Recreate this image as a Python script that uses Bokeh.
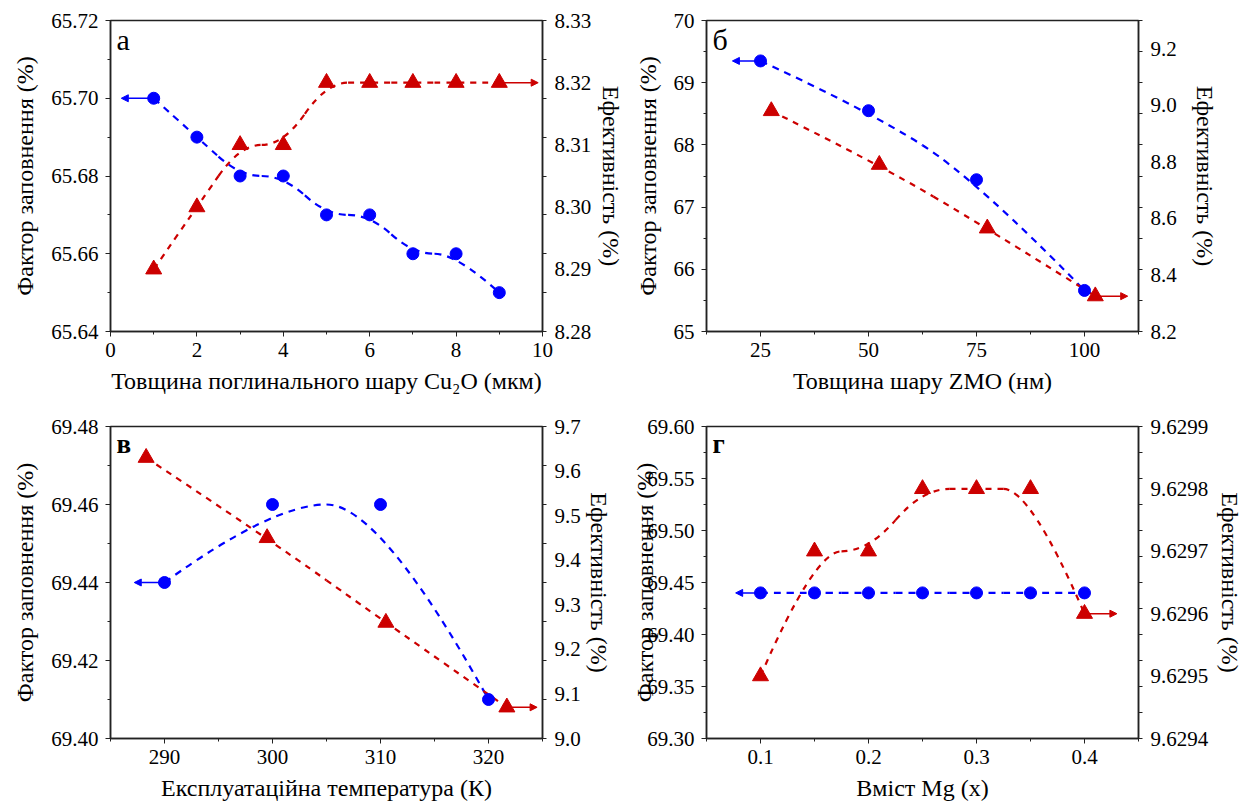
from bokeh.plotting import figure
from bokeh.models import (Range1d, LinearAxis, FixedTicker, PrintfTickFormatter,
                          Arrow, NormalHead, Label)
from bokeh.layouts import column, row
from bokeh.embed import file_html
from bokeh.resources import INLINE
from bokeh.themes import Theme

FONT = "Liberation Serif"
BLUE = "#0000FF"
RED = "#CC0000"

# ---------------- data ----------------
a_x = [1, 2, 3, 4, 5, 6, 7, 8, 9]
a_ff = [65.70, 65.69, 65.68, 65.68, 65.67, 65.67, 65.66, 65.66, 65.65]
a_eff_x = [1, 2, 3, 4, 5, 6, 7, 8, 9]
a_eff = [8.290, 8.300, 8.310, 8.310, 8.320, 8.320, 8.320, 8.320, 8.320]
b_x = [25, 50, 75, 100]
b_ff = [69.35, 68.55, 67.44, 65.66]
b_eff_x = [27.5, 52.5, 77.5, 102.5]
b_eff = [8.98, 8.79, 8.565, 8.325]
c_x = [290, 300, 310, 320]
c_ff = [69.44, 69.46, 69.46, 69.41]
c_eff_x = [288.3, 299.5, 310.5, 321.7]
c_eff = [9.63, 9.45, 9.26, 9.07]
d_x = [0.10, 0.15, 0.20, 0.25, 0.30, 0.35, 0.40]
d_ff = [69.44, 69.44, 69.44, 69.44, 69.44, 69.44, 69.44]
d_eff_x = [0.10, 0.15, 0.20, 0.25, 0.30, 0.35, 0.40]
d_eff = [9.6295, 9.6297, 9.6297, 9.6298, 9.6298, 9.6298, 9.6296]

Y_LEFT_TITLE = "Фактор заповнення (%)"
Y_RIGHT_TITLE = "Ефективність (%)"

theme = Theme(json={"attrs": {
    "Axis": {"major_label_text_font": FONT, "axis_label_text_font": FONT,
             "axis_label_text_font_style": "normal"},
    "Label": {"text_font": FONT},
}})


def frange(a, b, step):
    n = int(round((b - a) / step))
    return [round(a + i * step, 10) for i in range(n + 1)]


def bspline_segments(xs, ys):
    n = len(xs)
    P = list(zip(xs, ys))
    mid = lambda p, q: ((p[0] + q[0]) / 2, (p[1] + q[1]) / 2)
    if n == 2:
        return [(P[0], mid(P[0], P[1]), P[1])]
    segs = []
    for k in range(n - 2):
        s = P[0] if k == 0 else mid(P[k], P[k + 1])
        e = P[n - 1] if k == n - 3 else mid(P[k + 1], P[k + 2])
        segs.append((s, P[k + 1], e))
    return segs


def draw_curve(p, xs, ys, color, dash, rng="default"):
    segs = bspline_segments(xs, ys)
    kw = {} if rng == "default" else {"y_range_name": rng}
    p.quadratic(x0=[s[0][0] for s in segs], y0=[s[0][1] for s in segs],
                cx=[s[1][0] for s in segs], cy=[s[1][1] for s in segs],
                x1=[s[2][0] for s in segs], y1=[s[2][1] for s in segs],
                line_color=color, line_width=2.2, line_dash=dash, **kw)


def style_axis(ax):
    ax.major_label_text_font = FONT
    ax.axis_label_text_font = FONT
    ax.major_label_text_font_size = "21px"
    ax.axis_label_text_font_size = "24px"
    ax.axis_label_text_font_style = "normal"
    ax.axis_line_color = "#222222"
    ax.axis_line_width = 1.5
    ax.major_tick_line_color = "#222222"
    ax.minor_tick_line_color = "#222222"
    ax.major_label_text_color = "#000000"
    ax.axis_label_text_color = "#000000"


def panel(xs, ff, ex, eff, xr, xmaj, xmin, xfmt, yl, ylmaj, ylmin, ylfmt,
          yr, yrmaj, yrfmt, xtitle, letter, letter_bold,
          bl, br, bt, bb, fh, l_std, r_std, arrow_l, arrow_r):
    p = figure(frame_width=432, frame_height=fh, x_range=Range1d(*xr),
               y_range=Range1d(*yl), output_backend="svg", toolbar_location=None,
               min_border_left=bl, min_border_right=br, min_border_top=bt,
               min_border_bottom=bb)
    p.xgrid.visible = False
    p.ygrid.visible = False
    p.outline_line_color = "#222222"
    p.outline_line_width = 1.5

    p.extra_y_ranges = {"r": Range1d(*yr)}
    ra = LinearAxis(y_range_name="r")
    p.add_layout(ra, "right")

    xa = p.xaxis[0]
    ya = p.yaxis[0]
    for ax in (xa, ya, ra):
        style_axis(ax)

    xa.ticker = FixedTicker(ticks=xmaj, minor_ticks=xmin)
    xa.formatter = PrintfTickFormatter(format=xfmt)
    xa.major_tick_out = 5
    xa.major_tick_in = 0
    xa.minor_tick_out = 3
    xa.minor_tick_in = 0
    xa.major_label_standoff = 6
    xa.axis_label = xtitle
    xa.axis_label_standoff = 8

    ya.ticker = FixedTicker(ticks=ylmaj, minor_ticks=ylmin)
    ya.formatter = PrintfTickFormatter(format=ylfmt)
    ya.major_tick_out = 5
    ya.major_tick_in = 0
    ya.minor_tick_out = 3
    ya.minor_tick_in = 0
    ya.major_label_standoff = 7
    ya.axis_label = Y_LEFT_TITLE
    ya.axis_label_standoff = l_std

    # right axis: labels at its own values, tick marks mirror the left-axis ticks
    mirror = [yr[0] + (v - yl[0]) / (yl[1] - yl[0]) * (yr[1] - yr[0])
              for v in sorted(ylmaj + ylmin)]
    ra.ticker = FixedTicker(ticks=yrmaj, minor_ticks=mirror)
    ra.formatter = PrintfTickFormatter(format=yrfmt)
    ra.major_tick_out = 0
    ra.major_tick_in = 0
    ra.minor_tick_out = 4
    ra.minor_tick_in = 0
    ra.major_label_standoff = 8
    ra.axis_label = Y_RIGHT_TITLE
    ra.axis_label_standoff = r_std

    draw_curve(p, xs, ff, BLUE, "7 6")
    draw_curve(p, ex, eff, RED, "6 6", rng="r")

    p.add_layout(Arrow(end=NormalHead(size=7, fill_color=BLUE, line_color=BLUE),
                       x_start=xs[0], y_start=ff[0], x_end=arrow_l, y_end=ff[0],
                       line_color=BLUE, line_width=1.5))
    p.add_layout(Arrow(end=NormalHead(size=7, fill_color=RED, line_color=RED),
                       x_start=ex[-1], y_start=eff[-1], x_end=arrow_r, y_end=eff[-1],
                       line_color=RED, line_width=1.5, y_range_name="r"))

    p.scatter(xs, ff, marker="circle", size=12, fill_color=BLUE, line_color=BLUE)
    p.scatter(ex, eff, marker="triangle", size=16, fill_color=RED, line_color=RED,
              y_range_name="r")

    p.add_layout(Label(x=xr[0], y=yl[1], x_offset=6, y_offset=-2, text=letter,
                       text_baseline="top", text_font=FONT,
                       text_font_size="30px" if not letter_bold else "27px",
                       text_font_style="bold" if letter_bold else "normal",
                       text_color="black"))
    return p


pa = panel(a_x, a_ff, a_eff_x, a_eff,
           (0, 10), frange(0, 10, 2), frange(1, 9, 2), "%d",
           (65.64, 65.72), frange(65.64, 65.72, 0.02), frange(65.65, 65.71, 0.02), "%.2f",
           (8.28, 8.33), frange(8.28, 8.33, 0.01), "%.2f",
           "Товщина поглинального шару Cu₂O (мкм)", "а", False,
           110, 85, 20, 72, 311, 10, 4, 0.25, 9.9)

pb = panel(b_x, b_ff, b_eff_x, b_eff,
           (12.5, 112.5), [25, 50, 75, 100], [12.5, 37.5, 62.5, 87.5, 112.5], "%d",
           (65, 70), frange(65, 70, 1), frange(65.5, 69.5, 1), "%d",
           (8.2, 9.3), frange(8.2, 9.2, 0.2), "%.1f",
           "Товщина шару ZMO (нм)", "б", False,
           79, 116, 20, 72, 311, 10, 12, 18.5, 110.0)

pc = panel(c_x, c_ff, c_eff_x, c_eff,
           (285, 325), [290, 300, 310, 320], [285, 295, 305, 315, 325], "%d",
           (69.40, 69.48), frange(69.40, 69.48, 0.02), frange(69.41, 69.47, 0.02), "%.2f",
           (9.0, 9.7), frange(9.0, 9.7, 0.1), "%.1f",
           "Експлуатаційна температура (К)", "в", True,
           110, 85, 23, 69, 312, 10, 2, 287.2, 324.5)

pd = panel(d_x, d_ff, d_eff_x, d_eff,
           (0.05, 0.45), [0.1, 0.2, 0.3, 0.4], [0.05, 0.15, 0.25, 0.35, 0.45], "%.1f",
           (69.30, 69.60), frange(69.30, 69.60, 0.05), frange(69.325, 69.575, 0.05), "%.2f",
           (9.6294, 9.6299), frange(9.6294, 9.6299, 0.0001), "%.4f",
           "Вміст Mg (x)", "г", True,
           79, 116, 23, 69, 312, -14, 6, 0.077, 0.43)

layout = column(row(pa, pb, spacing=0), row(pc, pd, spacing=0), spacing=0)

html = file_html(layout, INLINE, title="chart", theme=theme)
open("out.html", "w").write(html)
